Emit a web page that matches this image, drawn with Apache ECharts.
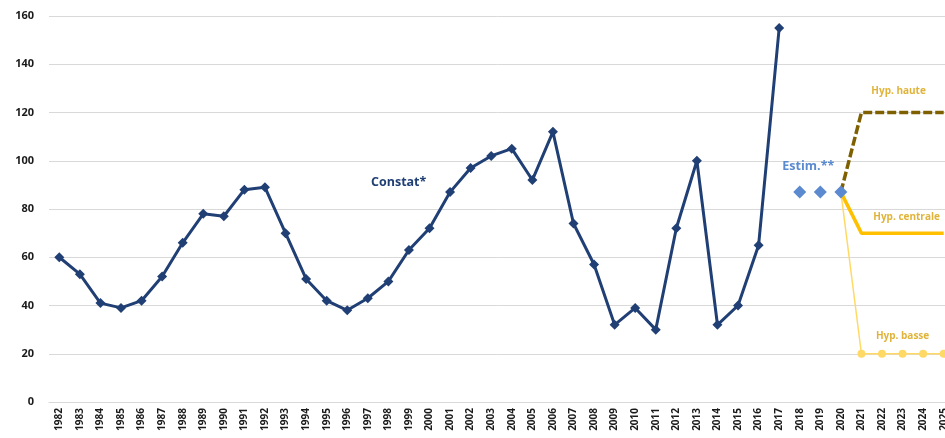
<!DOCTYPE html>
<html>
<head>
<meta charset="utf-8">
<script src="https://cdn.jsdelivr.net/npm/echarts@6/dist/echarts.min.js"></script>
<style>
	html, body { margin: 0; padding: 0; background: #fff; }
	#chart { width: 945px; height: 438px; }
</style>
</head>
<body>
<div id="chart"></div>
<script>
// Years on the x axis
const years = []
for (let y = 1982; y <= 2025; y++) years.push(String(y))

// Observed values 1982-2017
const constatYears = ['1982','1983','1984','1985','1986','1987','1988','1989','1990','1991','1992','1993','1994','1995','1996','1997','1998','1999','2000','2001','2002','2003','2004','2005','2006','2007','2008','2009','2010','2011','2012','2013','2014','2015','2016','2017']
const constatValues = [60, 53, 41, 39, 42, 52, 66, 78, 77, 88, 89, 70, 51, 42, 38, 43, 50, 63, 72, 87, 97, 102, 105, 92, 112, 74, 57, 32, 39, 30, 72, 100, 32, 40, 65, 155]

// Estimates 2018-2020
const estimYears = ['2018', '2019', '2020']
const estimValues = [87, 87, 87]

// Projections 2020-2025
const hypYears = ['2020', '2021', '2022', '2023', '2024', '2025']
const hauteValues = [87, 120, 120, 120, 120, 120]
const centraleValues = [87, 70, 70, 70, 70, 70]
const basseValues = [87, 20, 20, 20, 20, 20]

const yTicks = [0, 20, 40, 60, 80, 100, 120, 140, 160]

// spread values over the full year axis, null where missing
const toSeries = (ys, vals, labelYear, labelText) => years.map(y => {
	const i = ys.indexOf(y)
	if (i < 0) return null
	if (y === labelYear) {
		return { value: vals[i], label: { show: true, formatter: labelText } }
	}
	return vals[i]
})

const chart = echarts.init(document.getElementById('chart'))

const font = 'Open Sans'
const gold = '#e0b43a'

const option = {
	animation: false,
	backgroundColor: '#fff',
	grid: {
		left: 49,
		top: 16,
		right: -9,
		bottom: 36,
		outerBoundsMode: 'none',
		containLabel: false
	},
	xAxis: {
		type: 'category',
		data: years,
		boundaryGap: true,
		axisTick: { show: false },
		axisLine: { lineStyle: { color: '#d9d9d9', width: 1 } },
		axisLabel: {
			rotate: 90,
			interval: 0,
			margin: 6,
			color: '#1a1a1a',
			fontFamily: font,
			fontWeight: 'bold',
			fontSize: 10
		}
	},
	yAxis: {
		type: 'value',
		min: 0,
		max: 160,
		interval: 20,
		axisLine: { show: false },
		axisTick: { show: false },
		axisLabel: {
			margin: 15,
			color: '#1a1a1a',
			fontFamily: font,
			fontWeight: 'bold',
			fontSize: 11,
			formatter: v => yTicks.includes(v) ? String(v) : ''
		},
		splitLine: { lineStyle: { color: '#d9d9d9', width: 1 } }
	},
	graphic: [
		{
			type: 'text',
			left: 371,
			top: 176,
			style: {
				text: 'Constat*',
				fill: '#203f74',
				font: 'bold 12.5px "Open Sans"'
			}
		}
	],
	series: [
		{
			name: 'Hyp. basse',
			type: 'line',
			data: toSeries(hypYears, basseValues, '2023', 'Hyp. basse'),
			symbol: 'circle',
			symbolSize: 8,
			showSymbol: true,
			itemStyle: { color: '#ffd966' },
			lineStyle: { color: '#ffd966', width: 1.5 },
			label: { position: 'top', distance: 9, color: gold, fontFamily: font, fontWeight: 'bold', fontSize: 10 },
			z: 2
		},
		{
			name: 'Hyp. centrale',
			type: 'line',
			data: toSeries(hypYears, centraleValues),
			symbol: 'none',
			lineStyle: { color: '#ffc000', width: 3.5 },
			z: 3,
			markPoint: {
				symbol: 'rect',
				symbolSize: 1,
				itemStyle: { color: 'rgba(0,0,0,0)' },
				label: { show: true, color: gold, fontFamily: font, fontWeight: 'bold', fontSize: 10 },
				data: [
					{ coord: ['2023', centraleValues[3]], label: { formatter: 'Hyp. centrale', offset: [4, -16] } }
				]
			}
		},
		{
			name: 'Hyp. haute',
			type: 'line',
			data: toSeries(hypYears, hauteValues),
			symbol: 'none',
			lineStyle: { color: '#7f6000', width: 3.5, type: [9, 3] },
			z: 4,
			markPoint: {
				symbol: 'rect',
				symbolSize: 1,
				itemStyle: { color: 'rgba(0,0,0,0)' },
				label: { show: true, color: gold, fontFamily: font, fontWeight: 'bold', fontSize: 10 },
				data: [
					{ coord: ['2023', hauteValues[3]], label: { formatter: 'Hyp. haute', offset: [-4, -21] } }
				]
			}
		},
		{
			name: 'Constat',
			type: 'line',
			data: toSeries(constatYears, constatValues),
			symbol: 'diamond',
			symbolSize: 10,
			itemStyle: { color: '#203f74' },
			lineStyle: { color: '#203f74', width: 3 },
			z: 5
		},
		{
			name: 'Estim.',
			type: 'line',
			data: toSeries(estimYears, estimValues, '2019', 'Estim.**'),
			symbol: 'diamond',
			symbolSize: 13,
			itemStyle: { color: '#5b8ad0' },
			lineStyle: { width: 0, opacity: 0 },
			label: { position: 'top', offset: [-12, -8], color: '#5b8ad0', fontFamily: font, fontWeight: 'bold', fontSize: 12.5 },
			z: 6
		}
	]
}

chart.setOption(option)
</script>
</body>
</html>
